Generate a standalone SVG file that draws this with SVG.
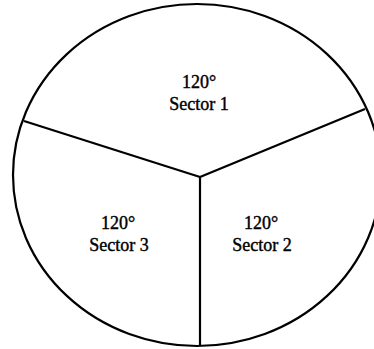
<svg xmlns="http://www.w3.org/2000/svg" width="374" height="349" viewBox="0 0 374 349">
<style>
.ln{fill:none;stroke:#000;stroke-width:2.2}
.t{font-family:"Liberation Serif","Times New Roman",serif;font-size:18px;fill:#000;stroke:#000;stroke-width:0.4;text-anchor:middle}
</style>
<rect width="374" height="349" fill="#fff"/>
<g id="circle">
<ellipse class="ln" cx="197" cy="175" rx="184" ry="171"/>
</g>
<g id="connectors">
<line class="ln" x1="200" y1="177" x2="24" y2="121"/>
<line class="ln" x1="200" y1="177" x2="365" y2="109"/>
<line class="ln" x1="200" y1="177" x2="200" y2="346"/>
</g>
<g id="sector1">
<text class="t" x="199" y="88">120°</text>
<text class="t" x="199" y="110">Sector 1</text>
</g>
<g id="sector3">
<text class="t" x="118" y="229">120°</text>
<text class="t" x="119" y="251">Sector 3</text>
</g>
<g id="sector2">
<text class="t" x="261" y="229">120°</text>
<text class="t" x="262" y="251">Sector 2</text>
</g>
</svg>
